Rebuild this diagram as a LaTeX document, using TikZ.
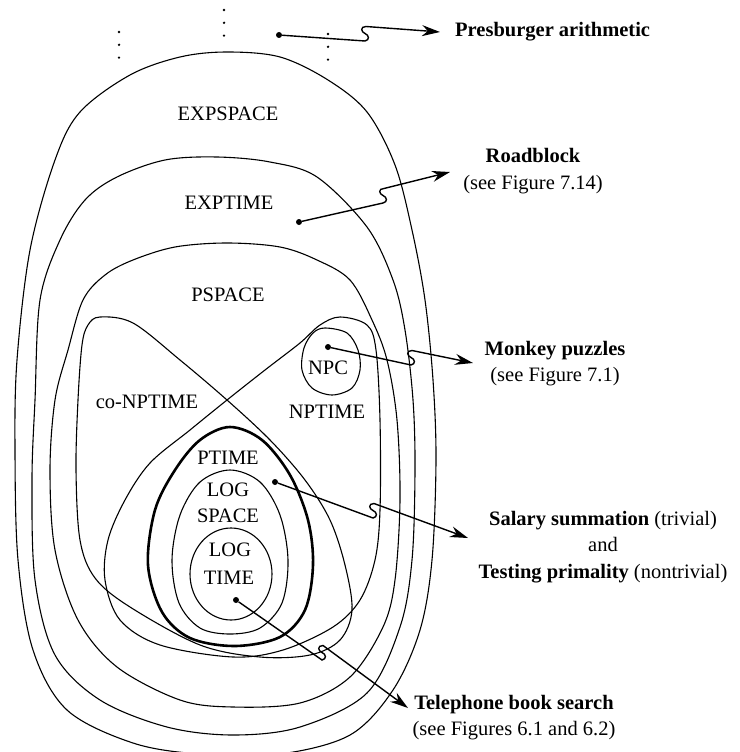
\documentclass[tikz,border=0pt]{standalone}
\usepackage{fontspec}
\setmainfont{Liberation Serif}
\usetikzlibrary{arrows.meta,calc}
\newcommand\sqg[1]{.. controls ($(#1)+(5,-1)$) and ($(#1)+(4,-6)$) .. ($(#1)+(0,-7.5)$) .. controls ($(#1)+(-4,-9)$) and ($(#1)+(-5,-14.5)$) .. ($(#1)+(1,-14.5)$)}
\tikzset{
  bnd/.style={line width=1.1pt},
  thickbnd/.style={line width=2.6pt},
  lbl/.style={font=\fontsize{20.5}{26.5}\selectfont, inner sep=0pt, align=center},
  dotpt/.style={circle, fill, inner sep=0pt, minimum size=6pt},
  arr/.style={line width=1.4pt, -{Stealth[length=18pt,width=11pt]}},
  sm/.style={smooth cycle, tension=0.55},
}
\begin{document}
\begin{tikzpicture}[x=1pt,y=-1pt]
\useasboundingbox (0,0) rectangle (739,752);
% vertical ellipses above
\foreach \px/\py in {119/32, 224/10, 328/34}{
  \foreach \k in {0,1,2}{\fill (\px,\py+12.8*\k) circle (1.3pt);}
}
% EXPSPACE
\draw[bnd] plot[sm] coordinates {(227,52) (280,57) (328,80) (367,112) (395,165) (412,230) (425,300) (433,380) (436,460) (432,560) (420,630) (393,690) (350,735) (280,754) (200,754) (133,743) (67,710) (33,650) (18,560) (15,450) (17,360) (30,250) (55,160) (80,112) (130,75) (180,57)};
% EXPTIME
\draw[bnd] plot[sm] coordinates {(217,157) (270,162) (317,177) (367,227) (393,280) (405,330) (413,400) (415,470) (412,560) (400,627) (367,693) (300,727) (233,735) (167,727) (100,700) (55,655) (35,580) (32,480) (35,400) (40,300) (60,240) (85,200) (117,177) (165,160)};
% PSPACE
\draw[bnd] plot[sm] coordinates {(227,243) (280,247) (317,260) (350,280) (372,320) (387,360) (397,420) (400,500) (395,580) (383,627) (350,677) (300,703) (233,707) (180,700) (117,667) (78,620) (55,550) (50,470) (55,400) (68,350) (83,300) (105,275) (133,260) (175,247)};
% NPTIME
\draw[bnd] plot[sm] coordinates {(340,317) (367,325) (376,350) (380,420) (380,510) (375,560) (360,600) (333,627) (283,650) (233,657) (160,645) (120,620) (105,580) (108,540) (125,500) (150,463) (190,430) (227,400) (265,370) (300,343) (320,325)};
% co-NPTIME
\draw[bnd] plot[sm] coordinates {(100,317) (133,323) (180,360) (227,400) (270,440) (305,480) (330,520) (345,565) (352,610) (340,640) (310,655) (260,657) (200,645) (130,607) (95,578) (80,540) (76,470) (78,400) (82,345) (88,325)};
% PTIME
\draw[thickbnd] plot[sm] coordinates {(230,427) (262,440) (290,475) (308,520) (313,565) (305,610) (280,637) (235,646) (190,638) (162,612) (148,565) (155,510) (175,470) (200,440)};
% LOGSPACE
\draw[bnd] plot[sm] coordinates {(230,470) (260,482) (280,515) (288,560) (282,603) (260,628) (230,634) (200,628) (179,603) (172,560) (180,515) (200,482)};
% LOGTIME
\draw[bnd] (231,574) ellipse [x radius=41pt, y radius=46pt];
% NPC
\draw[bnd] plot[sm] coordinates {(325,328) (347,333) (358,350) (360,370) (352,388) (332,395) (312,388) (302,370) (304,348) (313,333)};

% labels
\node[lbl] (expspace) at (228,114) {EXPSPACE};
\node[lbl] (exptime) at (229,203) {EXPTIME};
\node[lbl] (pspace) at (228,295) {PSPACE};
\node[lbl] (conp) at (147,402) {co-NPTIME};
\node[lbl] (npc) at (328,368) {NPC};
\node[lbl] (nptime) at (327,412) {NPTIME};
\node[lbl] (ptime) at (228,458) {PTIME};
\node[lbl] (log1) at (228,490) {LOG};
\node[lbl] (space) at (228,516) {SPACE};
\node[lbl] (log2) at (230,550) {LOG};
\node[lbl] (time) at (229,578) {TIME};

% right texts
\node[lbl, anchor=west] (pres) at (455,32) {\textbf{Presburger arithmetic}};
\node[lbl] (road) at (533,171) {\textbf{Roadblock}\\(see Figure 7.14)};
\node[lbl] (monk) at (555,363.5) {\textbf{Monkey puzzles}\\(see Figure 7.1)};
\node[lbl] (sal) at (603,547) {\textbf{Salary summation} (trivial)\\and\\\textbf{Testing primality} (nontrivial)};
\node[lbl] (tel) at (514,717.5) {\textbf{Telephone book search}\\(see Figures 6.1 and 6.2)};

% dots
\node[dotpt] (presdot) at (279,35) {};
\node[dotpt] (roaddot) at (299,222) {};
\node[dotpt] (monkdot) at (328,347) {};
\node[dotpt] (saldot) at (275,482) {};
\node[dotpt] (teldot) at (236,600) {};

% squiggle points and tips
\coordinate (presA) at (365,41);
\coordinate (presT) at (440,32);
\coordinate (roadA) at (383,203);
\coordinate (roadT) at (450,172);
\coordinate (monkA) at (411,365);
\coordinate (monkT) at (473,363);
\coordinate (salA) at (373,518);
\coordinate (salT) at (468,538);
\coordinate (telA) at (322,660);
\coordinate (telT) at (408,708);

\draw[arr] (presdot) -- (presA) \sqg{presA} -- (presT);
\draw[arr] (roaddot) -- (roadA) \sqg{roadA} -- (roadT);
\draw[arr] (monkdot) -- (monkA) \sqg{monkA} -- (monkT);
\draw[arr] (saldot) -- (salA) \sqg{salA} -- (salT);
\draw[arr] (teldot) -- (telA) \sqg{telA} -- (telT);
\end{tikzpicture}
\end{document}
